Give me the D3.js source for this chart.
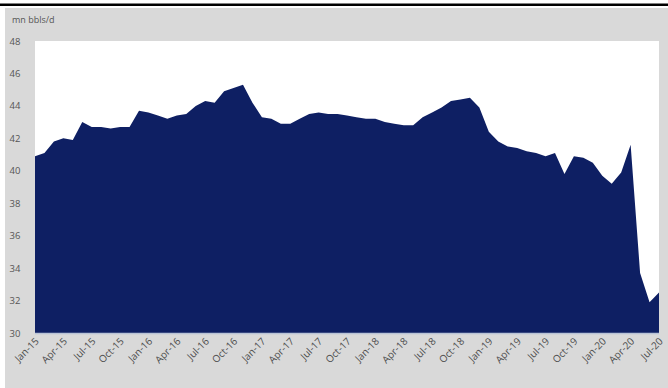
<!DOCTYPE html>
<html>
<head>
<meta charset="utf-8">
<script src="https://cdn.jsdelivr.net/npm/d3@7"></script>
<style>
  html, body { margin: 0; padding: 0; background: #ffffff; }
  svg { display: block; }
  text { font-family: "Open Sans", "Liberation Sans", sans-serif; }
</style>
</head>
<body>
<svg id="chart" width="668" height="388"></svg>
<script>
// Monthly observations, Jan-15 .. Jul-20
const months = [
  "Jan-15","Feb-15","Mar-15","Apr-15","May-15","Jun-15","Jul-15","Aug-15","Sep-15","Oct-15","Nov-15","Dec-15",
  "Jan-16","Feb-16","Mar-16","Apr-16","May-16","Jun-16","Jul-16","Aug-16","Sep-16","Oct-16","Nov-16","Dec-16",
  "Jan-17","Feb-17","Mar-17","Apr-17","May-17","Jun-17","Jul-17","Aug-17","Sep-17","Oct-17","Nov-17","Dec-17",
  "Jan-18","Feb-18","Mar-18","Apr-18","May-18","Jun-18","Jul-18","Aug-18","Sep-18","Oct-18","Nov-18","Dec-18",
  "Jan-19","Feb-19","Mar-19","Apr-19","May-19","Jun-19","Jul-19","Aug-19","Sep-19","Oct-19","Nov-19","Dec-19",
  "Jan-20","Feb-20","Mar-20","Apr-20","May-20","Jun-20","Jul-20"
];
const production = [
  40.9, 41.1, 41.8, 42.0, 41.9, 43.0, 42.7, 42.7, 42.6, 42.7, 42.7, 43.7,
  43.6, 43.4, 43.2, 43.4, 43.5, 44.0, 44.3, 44.2, 44.9, 45.1, 45.3, 44.2,
  43.3, 43.2, 42.9, 42.9, 43.2, 43.5, 43.6, 43.5, 43.5, 43.4, 43.3, 43.2,
  43.2, 43.0, 42.9, 42.8, 42.8, 43.3, 43.6, 43.9, 44.3, 44.4, 44.5, 43.9,
  42.4, 41.8, 41.5, 41.4, 41.2, 41.1, 40.9, 41.1, 39.8, 40.9, 40.8, 40.5,
  39.7, 39.2, 39.9, 41.6, 33.7, 31.9, 32.5
];
const yTicks = [30, 32, 34, 36, 38, 40, 42, 44, 46, 48];
const xTickLabels = [
  "Jan-15","Apr-15","Jul-15","Oct-15","Jan-16","Apr-16","Jul-16","Oct-16",
  "Jan-17","Apr-17","Jul-17","Oct-17","Jan-18","Apr-18","Jul-18","Oct-18",
  "Jan-19","Apr-19","Jul-19","Oct-19","Jan-20","Apr-20","Jul-20"
];
const unitLabel = "mn bbls/d";

const svg = d3.select("#chart");
const W = 668, H = 388;
const plot = { left: 35, right: 659, top: 41, bottom: 333 };

// top rule and grey panel
svg.append("rect").attr("x", 0).attr("y", 3.5).attr("width", W).attr("height", 2.5).attr("fill", "#000");
svg.append("rect").attr("x", 5).attr("y", 8).attr("width", W - 5).attr("height", H - 8).attr("fill", "#d9d9d9");
svg.append("rect").attr("x", plot.left).attr("y", plot.top)
  .attr("width", plot.right - plot.left).attr("height", plot.bottom - plot.top).attr("fill", "#ffffff");

const x = d3.scalePoint().domain(months).range([plot.left, plot.right]);
const y = d3.scaleLinear().domain([30, 48]).range([plot.bottom, plot.top]);

const data = months.map((m, i) => ({ m, v: production[i] }));
const area = d3.area().x(d => x(d.m)).y0(y(30)).y1(d => y(d.v));
svg.append("path").datum(data).attr("d", area).attr("fill", "#0e1f63");

// baseline
svg.append("line").attr("x1", plot.left).attr("x2", plot.right)
  .attr("y1", plot.bottom + 0.5).attr("y2", plot.bottom + 0.5)
  .attr("stroke", "#b9c3d6").attr("stroke-width", 1.5);

// y axis
const yAxis = d3.axisLeft(y).tickValues(yTicks).tickSize(0).tickPadding(8).tickFormat(d3.format("d"));
const gy = svg.append("g").attr("transform", `translate(${plot.left},0)`).call(yAxis);
gy.select(".domain").remove();
gy.selectAll("text").attr("fill", "#555").style("font-size", "9.5px").attr("x", -20).attr("text-anchor", "middle");

// x axis
const xAxis = d3.axisBottom(x).tickValues(xTickLabels).tickSize(0).tickPadding(0);
const gx = svg.append("g").attr("transform", `translate(0,${plot.bottom})`).call(xAxis);
gx.select(".domain").remove();
gx.selectAll("text")
  .attr("fill", "#4d4d4d").style("font-size", "10px")
  .attr("text-anchor", "end").attr("dy", null).attr("y", 0)
  .attr("transform", "translate(4,9) rotate(-45)");

// unit label
svg.append("text").attr("x", 12).attr("y", 23).text(unitLabel)
  .attr("fill", "#555").style("font-size", "9px");
</script>
</body>
</html>
